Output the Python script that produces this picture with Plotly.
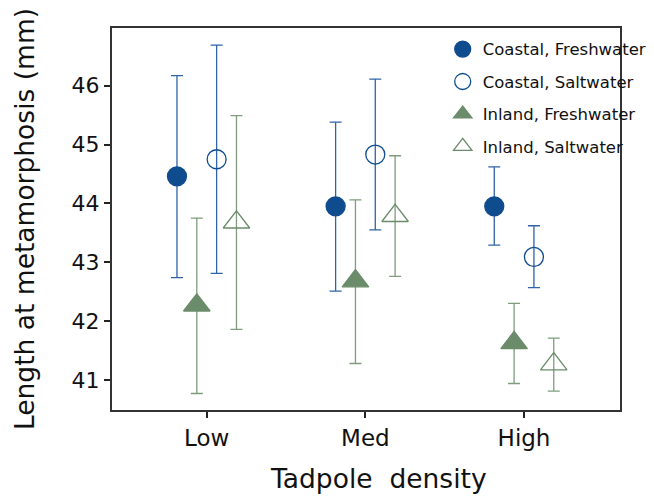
import plotly.graph_objects as go

categories = ["Low", "Med", "High"]
series_names = ["Coastal, Freshwater", "Inland, Freshwater", "Coastal, Saltwater", "Inland, Saltwater"]

cf_mean = [44.46, 43.95, 43.95]
cf_hi = [46.17, 45.38, 44.62]
cf_lo = [42.74, 42.51, 43.29]

if_mean = [42.27, 42.68, 41.63]
if_hi = [43.75, 44.06, 42.30]
if_lo = [40.77, 41.28, 40.94]

cs_mean = [44.75, 44.83, 43.09]
cs_hi = [46.69, 46.11, 43.62]
cs_lo = [42.81, 43.55, 42.57]

is_mean = [43.68, 43.79, 41.27]
is_hi = [45.49, 44.81, 41.71]
is_lo = [41.86, 42.76, 40.81]

x_title = "Tadpole\u00a0\u00a0density"
y_title = "Length at metamorphosis (mm)"

blue = "#0f4c8e"
blue_err = "#2f64a8"
green = "#6b8c6b"
green_err = "#7f9d7d"

FONT = "DejaVu Sans, Arial, sans-serif"

def trace(name, mean, hi, lo, symbol, color, ecolor, size, rank, lcolor=None):
    return go.Scatter(
        x=categories, y=mean, name=name, mode="markers",
        offsetgroup=name, legendgroup=name, legendrank=rank,
        marker=dict(symbol=symbol, size=size, color=color,
                    line=dict(width=1.3, color=lcolor or color)),
        error_y=dict(type="data", symmetric=False,
                     array=[h - m for h, m in zip(hi, mean)],
                     arrayminus=[m - l for m, l in zip(mean, lo)],
                     color=ecolor, thickness=1.3, width=6),
    )

fig = go.Figure()
fig.add_trace(trace(series_names[0], cf_mean, cf_hi, cf_lo, "circle", blue, blue_err, 19, 1))
fig.add_trace(trace(series_names[1], if_mean, if_hi, if_lo, "triangle-up", green, green_err, 23, 3))
fig.add_trace(trace(series_names[2], cs_mean, cs_hi, cs_lo, "circle-open", blue, blue_err, 19, 2))
fig.add_trace(trace(series_names[3], is_mean, is_hi, is_lo, "triangle-up-open", green, green_err, 23, 4, "#4f6f45"))

axis_common = dict(showline=True, linecolor="#333333", linewidth=2, mirror=True,
                   ticks="outside", ticklen=6, tickwidth=2, tickcolor="#222222",
                   showgrid=False, zeroline=False, automargin=False)

fig.update_layout(
    width=654, height=496,
    margin=dict(l=104, r=42, t=20, b=94, autoexpand=False),
    paper_bgcolor="white", plot_bgcolor="white",
    font=dict(family=FONT, color="#111111"),
    scattermode="group", scattergap=0.5,
    xaxis=dict(**axis_common, type="category", range=[-0.597, 2.605],
               tickfont=dict(size=23, color="#111111", family=FONT)),
    yaxis=dict(**axis_common, range=[40.49, 46.98], tickvals=[41, 42, 43, 44, 45, 46],
               tickfont=dict(size=22, color="#111111", family=FONT),
               title=dict(text=y_title, font=dict(size=26.5, family=FONT), standoff=29)),
    legend=dict(x=0.651, y=0.99, xanchor="left", yanchor="top",
                font=dict(size=16.5, color="#111111", family=FONT), bgcolor="rgba(0,0,0,0)",
                tracegroupgap=8, itemsizing="trace"),
    annotations=[dict(text=x_title, xref="paper", yref="paper", x=0.524, y=0,
                      xanchor="center", yanchor="bottom", yshift=-86, showarrow=False,
                      font=dict(size=26.5, family=FONT, color="#111111"))],
    showlegend=True,
)

fig.write_html("out.html")
